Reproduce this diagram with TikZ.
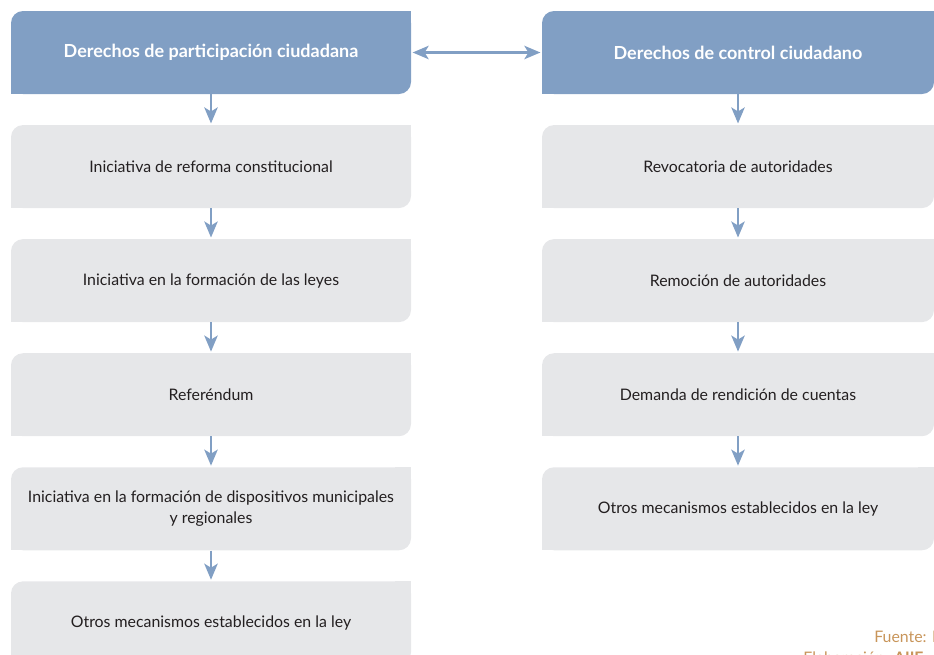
\documentclass[tikz,border=0pt]{standalone}
\usepackage{fontspec}
\setmainfont{Lato}
\usetikzlibrary{positioning,arrows.meta}
\definecolor{cabecera}{HTML}{819FC4}
\definecolor{caja}{HTML}{E6E7E9}
\definecolor{textocaja}{HTML}{231F20}
\definecolor{fuente}{HTML}{C8955A}

\begin{document}
\begin{tikzpicture}[x=0.75pt,y=-0.75pt,
		forma/.style={rectangle, inner sep=0pt, minimum height=62.25pt, align=center,
			path picture={
				\fill[#1, rounded corners=9pt] (path picture bounding box.south west) rectangle (path picture bounding box.north east);
				\fill[#1] (path picture bounding box.north east) rectangle ++(-12pt,-12pt);
				\fill[#1] (path picture bounding box.south west) rectangle ++(12pt,12pt);}},
		titulo/.style={forma=cabecera, text=white, font=\bfseries\fontsize{13.5}{16}\selectfont},
		paso/.style={forma=caja, text=textocaja, font=\fontsize{11.9}{15.75}\selectfont},
		flecha/.style={draw=cabecera, line width=2pt, -{Stealth[length=12pt,width=10pt,inset=3pt]}, shorten >=1pt},
		node distance=22.9pt]
		\useasboundingbox (0,0) rectangle (934,654);
		\clip (0,0) rectangle (934,654);
		% columna izquierda
		\node[titulo, minimum width=300pt] (part) at (211,52.5) {Derechos de participación ciudadana};
		\node[paso, minimum width=300pt, below=of part] (p1) {Iniciativa de reforma constitucional};
		\node[paso, minimum width=300pt, below=of p1] (p2) {Iniciativa en la formación de las leyes};
		\node[paso, minimum width=300pt, below=of p2] (p3) {Referéndum};
		\node[paso, minimum width=300pt, below=of p3] (p4) {Iniciativa en la formación de dispositivos municipales\\y regionales};
		\node[paso, minimum width=300pt, below=of p4] (p5) {Otros mecanismos establecidos en la ley};
		% columna derecha
		\node[titulo, minimum width=294pt] (ctrl) at (738,52.5) {Derechos de control ciudadano};
		\node[paso, minimum width=294pt, below=of ctrl] (c1) {Revocatoria de autoridades};
		\node[paso, minimum width=294pt, below=of c1] (c2) {Remoción de autoridades};
		\node[paso, minimum width=294pt, below=of c2] (c3) {Demanda de rendición de cuentas};
		\node[paso, minimum width=294pt, below=of c3] (c4) {Otros mecanismos establecidos en la ley};
		% flechas
		\draw[flecha, {Stealth[length=12pt,width=10pt,inset=3pt]}-{Stealth[length=12pt,width=10pt,inset=3pt]}, shorten <=1pt] (part) -- (ctrl);
		\draw[flecha] (part) -- (p1);
		\draw[flecha] (p1) -- (p2);
		\draw[flecha] (p2) -- (p3);
		\draw[flecha] (p3) -- (p4);
		\draw[flecha] (p4) -- (p5);
		\draw[flecha] (ctrl) -- (c1);
		\draw[flecha] (c1) -- (c2);
		\draw[flecha] (c2) -- (c3);
		\draw[flecha] (c3) -- (c4);
		% nota
		\node[anchor=base west, text=fuente, font=\fontsize{11.9}{14}\selectfont, inner sep=0pt] (fte) at (874,642) {Fuente: I};
		\node[anchor=base west, text=fuente, font=\fontsize{11.9}{14}\selectfont, inner sep=0pt] (elab) at (803,663) {Elaboración: \textbf{AIIE}};
	\end{tikzpicture}
\end{document}
